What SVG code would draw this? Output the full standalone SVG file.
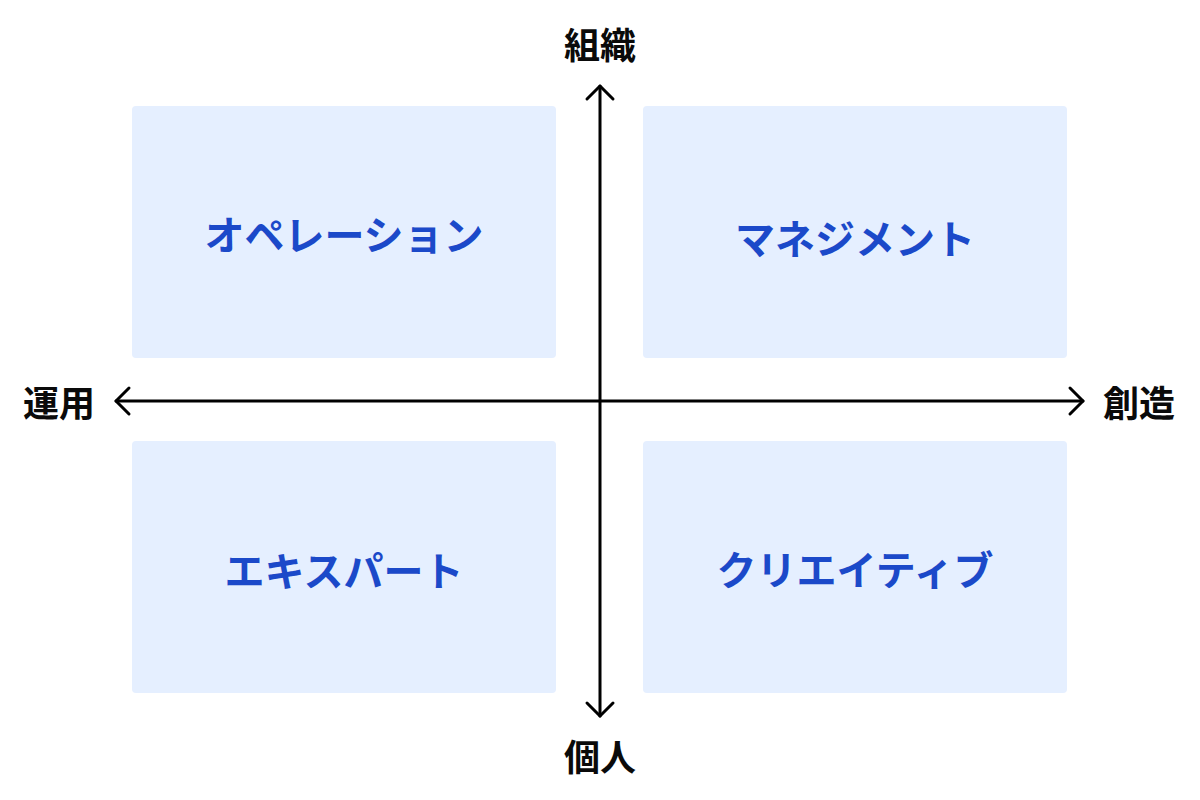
<svg xmlns="http://www.w3.org/2000/svg" width="1200" height="800" viewBox="0 0 1200 800">
<style>
.box{fill:#e5efff;}
.bt{font-family:"Noto Sans CJK JP","Noto Sans",sans-serif;font-weight:700;font-size:40px;fill:#1b49c9;text-anchor:middle;dominant-baseline:central;}
.ax{font-family:"Noto Sans CJK JP","Noto Sans",sans-serif;font-weight:700;font-size:36px;fill:#0a0a0a;text-anchor:middle;dominant-baseline:central;}
.line{stroke:#000;stroke-width:3;fill:none;stroke-linecap:round;stroke-linejoin:round;}
</style>
<rect width="1200" height="800" fill="#fff"/>
<g id="q-operation"><rect class="box" x="132" y="106" width="424" height="252" rx="4"/><text class="bt" x="344" y="233">オペレーション</text></g>
<g id="q-management"><rect class="box" x="643" y="106" width="424" height="252" rx="4"/><text class="bt" x="855" y="237">マネジメント</text></g>
<g id="q-expert"><rect class="box" x="132" y="441" width="424" height="252" rx="4"/><text class="bt" x="344" y="569">エキスパート</text></g>
<g id="q-creative"><rect class="box" x="643" y="441" width="424" height="252" rx="4"/><text class="bt" x="855" y="568">クリエイティブ</text></g>
<g id="axes">
<line class="line" x1="600" y1="86" x2="600" y2="716"/>
<polyline class="line" points="587,99 600,86 613,99"/>
<polyline class="line" points="587,703 600,716 613,703"/>
<line class="line" x1="116" y1="401" x2="1083" y2="401"/>
<polyline class="line" points="129,388 116,401 129,414"/>
<polyline class="line" points="1070,388 1083,401 1070,414"/>
</g>
<g id="labels">
<text class="ax" x="600" y="43">組織</text>
<text class="ax" x="600" y="755">個人</text>
<text class="ax" x="59" y="401">運用</text>
<text class="ax" x="1139" y="401">創造</text>
</g>
</svg>
